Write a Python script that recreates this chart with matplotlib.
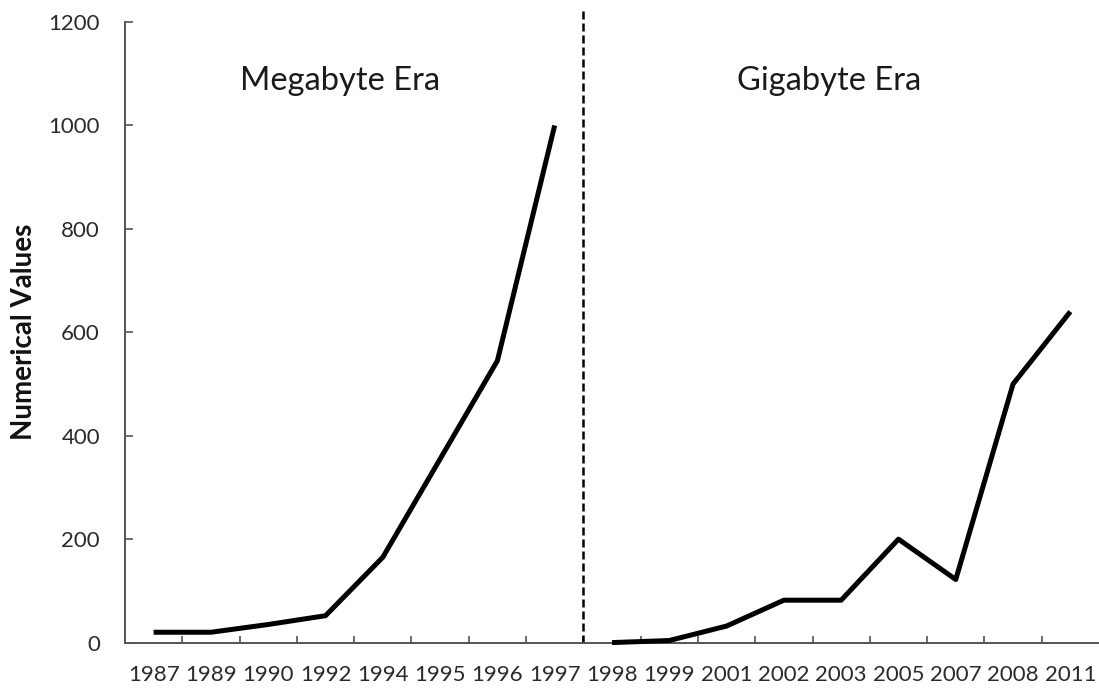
import numpy as np
import matplotlib
matplotlib.use("Agg")
import matplotlib.pyplot as plt

plt.rcParams['font.family'] = ['Lato', 'DejaVu Sans']

# Data
years = ["1987", "1989", "1990", "1992", "1994", "1995", "1996", "1997",
         "1998", "1999", "2001", "2002", "2003", "2005", "2007", "2008", "2011"]
mega_years = ["1987", "1989", "1990", "1992", "1994", "1995", "1996", "1997"]
mega_values = [20, 20, 35, 52, 165, 355, 545, 1000]
giga_years = ["1998", "1999", "2001", "2002", "2003", "2005", "2007", "2008", "2011"]
giga_values = [0, 4, 32, 82, 82, 200, 122, 500, 640]
yticks = [0, 200, 400, 600, 800, 1000, 1200]
era_labels = ["Megabyte Era", "Gigabyte Era"]

fig = plt.figure(figsize=(10.99, 6.88), dpi=100)
ax = fig.add_axes([0.1137, 0.066, 0.8863, 0.902])

pos = {y: i for i, y in enumerate(years)}
mx = [pos[y] for y in mega_years]
gx = [pos[y] for y in giga_years]

ax.plot(mx, mega_values, color='black', lw=3.6, solid_joinstyle='round',
        solid_capstyle='butt', clip_on=False, zorder=3)
ax.plot(gx, giga_values, color='black', lw=3.6, solid_joinstyle='round',
        solid_capstyle='butt', clip_on=False, zorder=3)

# era divider between last megabyte year and first gigabyte year
div_x = (pos[mega_years[-1]] + pos[giga_years[0]]) / 2
ax.axvline(div_x, ymin=0, ymax=1.02, color='black', lw=1.8,
           linestyle=(0, (3.2, 1.6)), clip_on=False, zorder=2)

ax.set_xlim(-0.5, len(years) - 0.5)
ax.set_ylim(0, 1200)

ax.set_xticks(range(len(years)))
ax.set_xticklabels(years)
ax.set_xticks(np.arange(0.5, len(years) - 1, 1), minor=True)
ax.tick_params(axis='x', which='major', length=0, pad=16, labelsize=16,
               labelcolor='#2a2a2a')
ax.tick_params(axis='x', which='minor', direction='in', length=5,
               width=1.2, color='#555555')

ax.set_yticks(yticks)
ax.tick_params(axis='y', direction='in', length=5.5, width=1.2,
               color='#555555', pad=18, labelsize=16, labelcolor='#2a2a2a')

for s in ['top', 'right']:
    ax.spines[s].set_visible(False)
for s in ['left', 'bottom']:
    ax.spines[s].set_color('#555555')
    ax.spines[s].set_linewidth(1.4)

ax.set_ylabel("Numerical Values", fontsize=20, fontweight='bold',
              color='#111111')
ax.yaxis.set_label_coords(-0.090, 0.5)

ax.text(0.221, 0.890, era_labels[0], transform=ax.transAxes, ha='center',
        va='baseline', fontsize=23.5, color='#1a1a1a')
ax.text(0.723, 0.890, era_labels[1], transform=ax.transAxes, ha='center',
        va='baseline', fontsize=23.5, color='#1a1a1a')

fig.savefig("out.png", dpi=100)
